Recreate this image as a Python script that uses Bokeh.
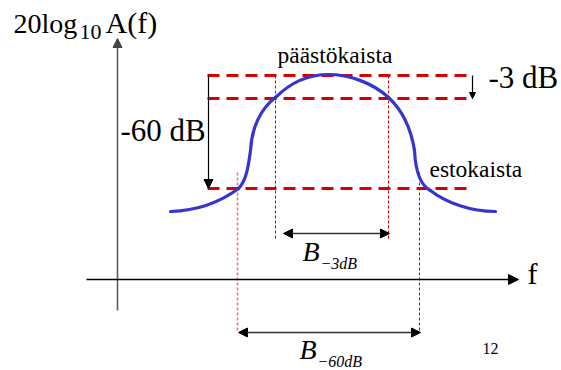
from bokeh.plotting import figure
from bokeh.models import Range1d, Arrow, NormalHead
from bokeh.core.properties import value
from bokeh.embed import file_html
from bokeh.resources import INLINE

# --- schematic geometry (drawing units, y grows downward) ---
axis_origin = (117, 279)
y_axis_span = (310, 38)          # bottom, arrow tip
x_axis_span = (86, 518)          # left, arrow tip

# dashed reference levels: passband top, -3 dB, -60 dB
level_y = [75, 98, 188]
level_x = (207, 466)

# band edges: -60 dB (outer) and -3 dB (inner)
edge60_x = [237, 419]
edge3_x = [275, 388]
edge60_y = (172, 332)
edge3_y = (75, 240)

b3_arrow_y = 233
b60_arrow_y = 332

# response curve as cubic Bezier pieces
seg_x0 = [170, 238, 250, 275, 328, 388, 414, 430]
seg_y0 = [211, 188, 150, 97, 74, 97, 150, 190]
seg_x1 = [238, 250, 275, 328, 388, 414, 430, 495]
seg_y1 = [188, 150, 97, 74, 97, 150, 190, 211]
seg_cx0 = [200, 246, 251, 290, 348, 400, 415, 445]
seg_cy0 = [210, 180, 128, 82, 74, 108, 170, 202]
seg_cx1 = [222, 248, 260, 308, 372, 410, 420, 470]
seg_cy1 = [200, 165, 108, 74, 82, 125, 185, 211]

# text labels: (x, baseline y, text, font px, style)
labels = [
    (13, 35, "20log", 28, "normal"),
    (79, 41, "10", 22, "normal"),
    (105, 35, "A(f)", 30, "normal"),
    (120, 143, "-60 dB", 31, "normal"),
    (488, 90, "-3 dB", 31, "normal"),
    (277, 65, "päästökaista", 23.5, "normal"),
    (429, 179, "estokaista", 23.5, "normal"),
    (527, 286, "f", 30, "normal"),
    (302, 263, "B", 28, "italic"),
    (320, 270, "\u22123dB", 16, "italic"),
    (299, 361, "B", 28, "italic"),
    (317, 368, "\u221260dB", 16, "italic"),
    (482, 355, "12", 16, "normal"),
]

SERIF = value("'Liberation Serif'")
BASELINE_SHIFT = 0.43   # renderer places alphabetic text lower; compensate

p = figure(width=561, height=370, x_range=Range1d(0, 561), y_range=Range1d(370, 0),
           x_axis_type=None, y_axis_type=None, toolbar_location=None,
           output_backend="svg", min_border=0)
p.grid.visible = False
p.outline_line_color = None
p.background_fill_color = "white"
p.border_fill_color = "white"

# dotted band-edge markers
p.segment(x0=edge60_x[:1], y0=[edge60_y[0]], x1=edge60_x[:1], y1=[edge60_y[1]],
          line_color="#ee7777", line_width=1.6, line_dash="3 2")
p.segment(x0=edge60_x[1:], y0=[edge60_y[0]], x1=edge60_x[1:], y1=[edge60_y[1]],
          line_color="#cc0000", line_width=1, line_dash="3 2")
p.segment(x0=edge3_x, y0=[edge3_y[0]] * 2, x1=edge3_x, y1=[edge3_y[1]] * 2,
          line_color="#cc0000", line_width=1, line_dash="3 2")

# dashed level lines
p.segment(x0=[level_x[0]] * 3, y0=level_y, x1=[level_x[1]] * 3, y1=level_y,
          line_color="#d40000", line_width=3, line_dash="12 7")

# response curve
p.bezier(x0=seg_x0, y0=seg_y0, x1=seg_x1, y1=seg_y1,
         cx0=seg_cx0, cy0=seg_cy0, cx1=seg_cx1, cy1=seg_cy1,
         line_color="#3535cf", line_width=3.2, line_cap="round")

# coordinate axes
p.add_layout(Arrow(end=NormalHead(size=9, fill_color="#444444", line_color="#444444"),
                   x_start=axis_origin[0], y_start=y_axis_span[0],
                   x_end=axis_origin[0], y_end=y_axis_span[1],
                   line_color="#555555", line_width=1.5))
p.add_layout(Arrow(end=NormalHead(size=10, fill_color="black", line_color="black"),
                   x_start=x_axis_span[0], y_start=axis_origin[1],
                   x_end=x_axis_span[1], y_end=axis_origin[1],
                   line_color="black", line_width=1.5))

# -60 dB and -3 dB drop arrows
p.add_layout(Arrow(end=NormalHead(size=9, fill_color="black", line_color="black"),
                   x_start=208, y_start=level_y[0], x_end=208, y_end=level_y[2],
                   line_color="black", line_width=1.2))
p.add_layout(Arrow(end=NormalHead(size=6, fill_color="black", line_color="black"),
                   x_start=472, y_start=level_y[0], x_end=472, y_end=level_y[1],
                   line_color="black", line_width=1.2))

# bandwidth arrows
for xs, yv in ((edge3_x, b3_arrow_y), (edge60_x, b60_arrow_y)):
    p.add_layout(Arrow(start=NormalHead(size=9, fill_color="black", line_color="black"),
                       end=NormalHead(size=9, fill_color="black", line_color="black"),
                       x_start=xs[0] + (8 if yv == b3_arrow_y else 1), y_start=yv,
                       x_end=xs[1] + 1, y_end=yv,
                       line_color="#333333", line_width=1.5))

for x, y, s, size, style in labels:
    p.text(x=[x], y=[y - BASELINE_SHIFT * size], text=[s], text_font=SERIF,
           text_font_size=value(f"{size}px"), text_font_style=style,
           text_baseline="alphabetic", text_align="left", text_color="black")

open("out.html", "w").write(file_html(p, INLINE))
